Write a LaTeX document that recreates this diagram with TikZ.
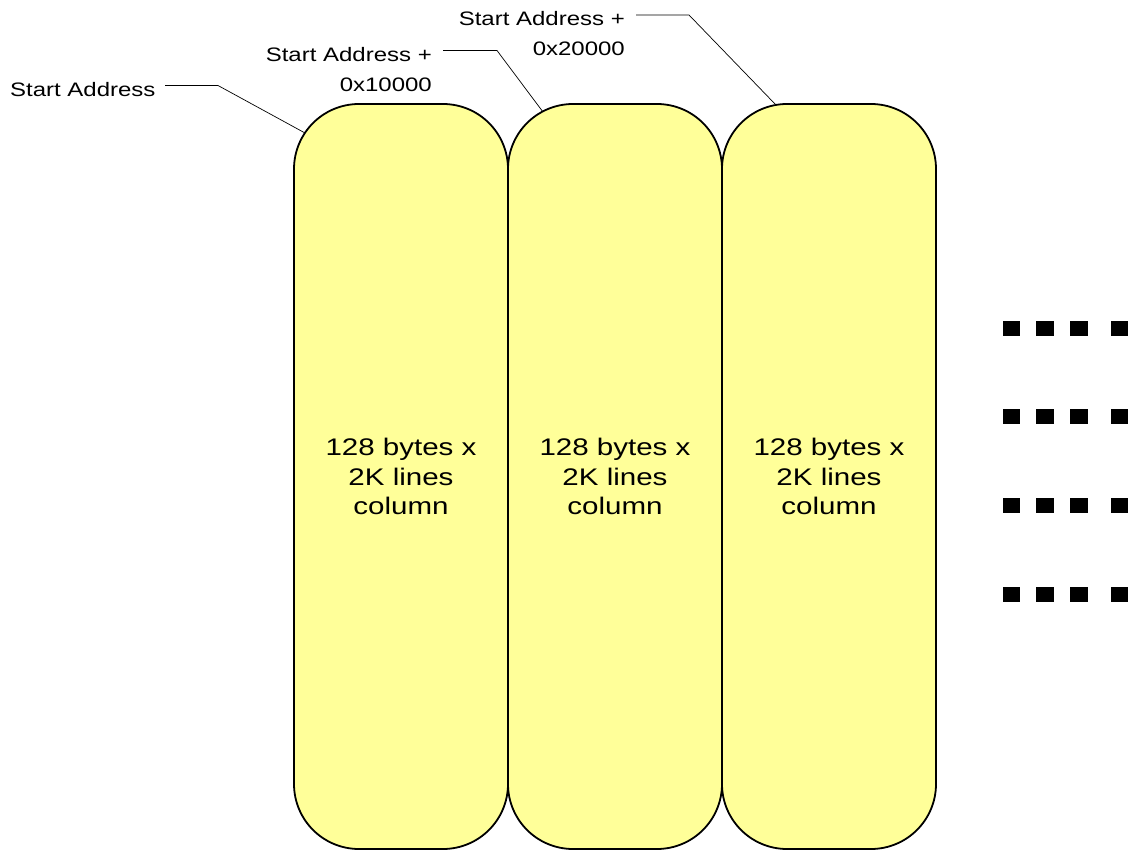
\documentclass[tikz,border=0pt]{standalone}
\usepackage{fontspec}
\newfontfamily\labfont[FakeStretch=1.23]{Liberation Sans}
\definecolor{colfill}{HTML}{FFFF99}
\begin{document}
\begin{tikzpicture}[x=1pt,y=-1pt,
  colbox/.style={draw=black, line width=1.8pt, fill=colfill, rounded corners=65pt,
    minimum width=214pt, minimum height=745pt, inner sep=0pt, align=center,
    font=\labfont\fontsize{24}{29.5}\selectfont},
  addr/.style={inner sep=0pt, align=right, font=\labfont\fontsize{19.5}{29.3}\selectfont},
  leader/.style={draw=black, line width=0.7pt},
  dotsq/.style={fill=black}]
\useasboundingbox (0,0) rectangle (1128,850);
% columns
\node[colbox] (c1) at (401,476.5) {128 bytes x\\2K lines\\column};
\node[colbox] (c2) at (615,476.5) {128 bytes x\\2K lines\\column};
\node[colbox] (c3) at (829,476.5) {128 bytes x\\2K lines\\column};
% labels
\node[addr, anchor=base west] (l1) at (10,96.7) {Start Address};
\node[addr, anchor=east] (l2) at (432,69.4) {Start Address +\\0x10000};
\node[addr, anchor=east] (l3) at (625,33.4) {Start Address +\\0x20000};
% leader coordinates
\coordinate (a1) at (165,85.5);
\coordinate (b1) at (218,85.5);
\coordinate (e1) at (305,133);
\coordinate (a2) at (443,50.5);
\coordinate (b2) at (497,50.5);
\coordinate (e2) at (543,112);
\coordinate (a3) at (636,15);
\coordinate (b3) at (689,15);
\coordinate (e3) at (776,105);
\draw[leader] (a1) -- (b1) -- (e1);
\draw[leader] (a2) -- (b2) -- (e2);
\draw[leader] (a3) -- (b3) -- (e3);
% continuation squares
\foreach \yy in {321,409.5,498,587}{
  \foreach \xx in {1002.7,1036.3,1070,1111}{
    \fill[dotsq] (\xx,\yy) rectangle ++(17.5,15);
  }
}
\end{tikzpicture}
\end{document}
